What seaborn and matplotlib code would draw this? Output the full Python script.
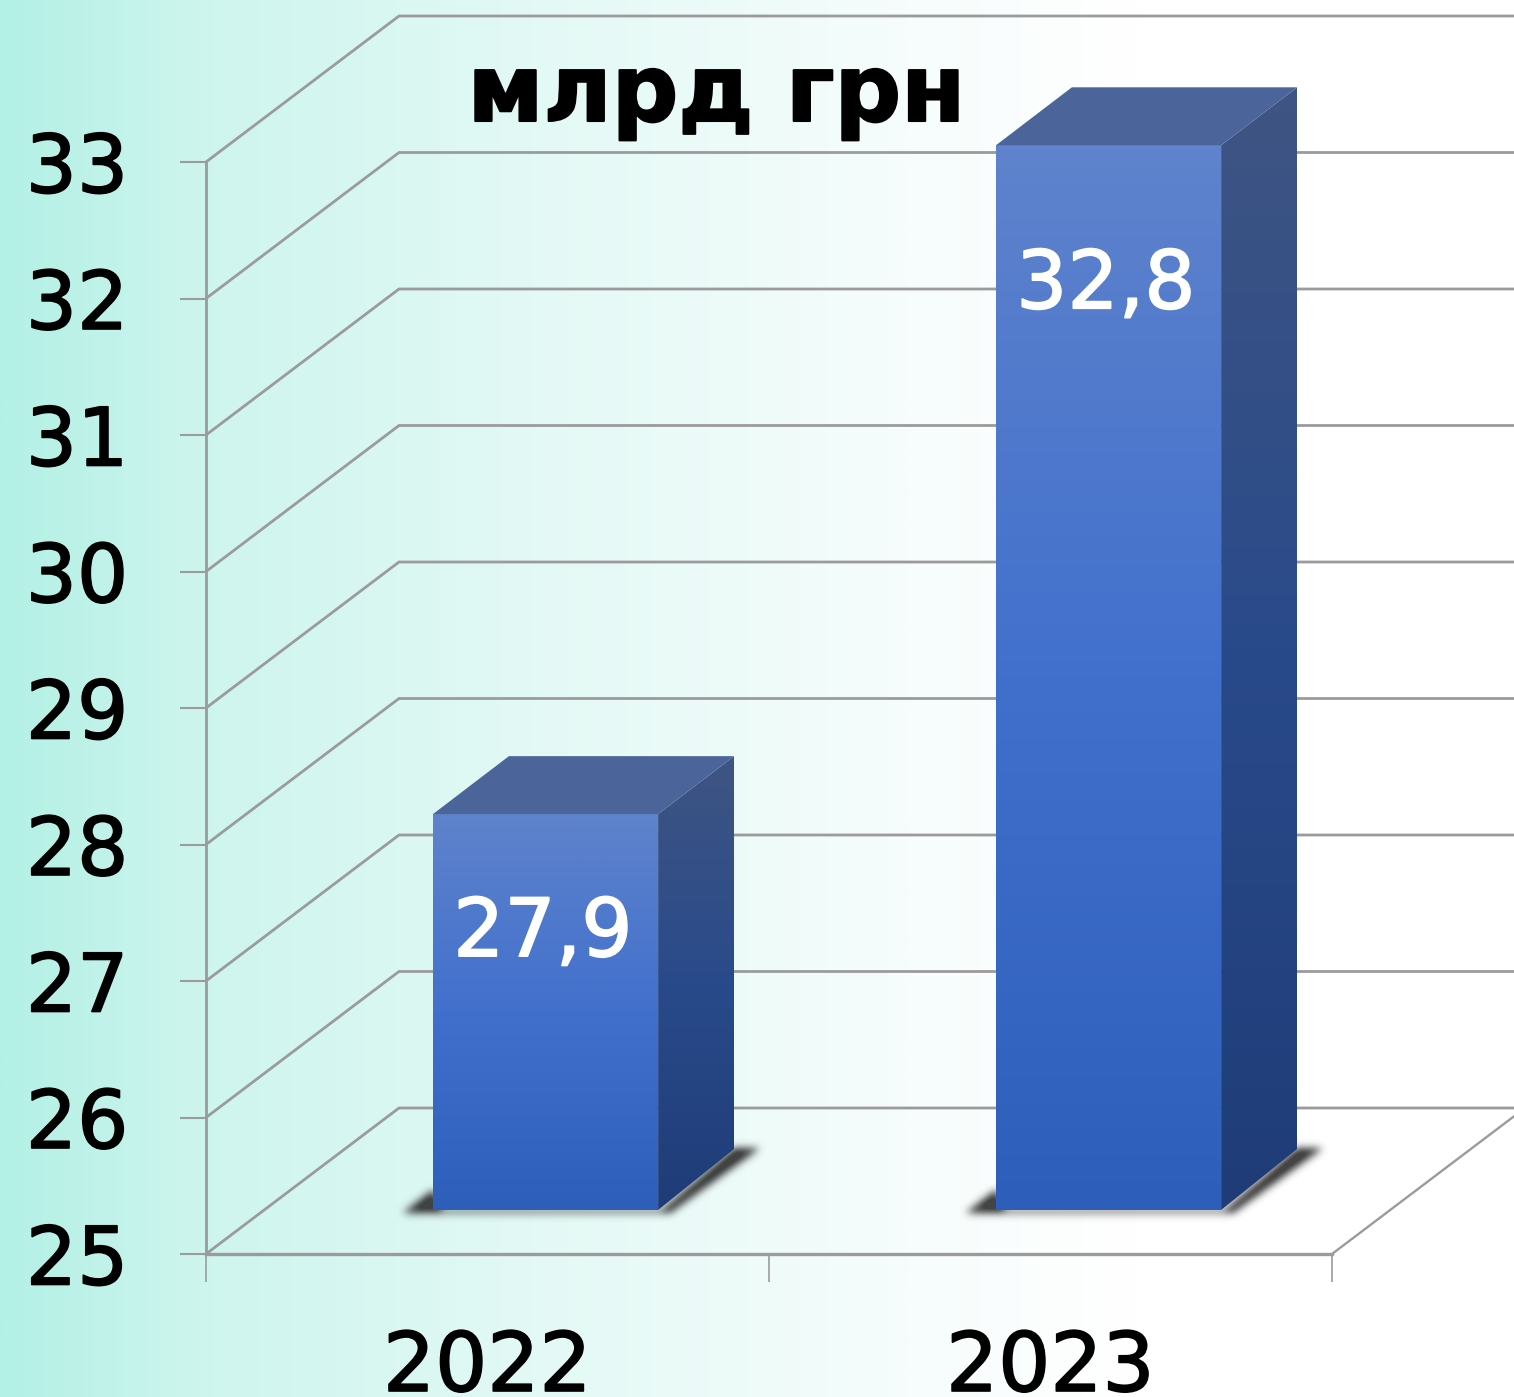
import numpy as np
import pandas as pd
import matplotlib
matplotlib.use("Agg")
import matplotlib.pyplot as plt
import matplotlib.patheffects as pe
import seaborn as sns
from matplotlib.colors import LinearSegmentedColormap
from matplotlib.patches import Polygon
from matplotlib.path import Path
from matplotlib.transforms import IdentityTransform

years = ["2022", "2023"]
values = [27.9, 32.8]
value_labels = ["27,9", "32,8"]
y_ticks = [25, 26, 27, 28, 29, 30, 31, 32, 33]
title_text = "млрд грн"

W, H = 1514, 1397
GRID = "#9b9b9b"
BAR_W = 0.4
BASE = 25                 # the value axis starts here, not at zero
DEPTH_FRAME = (193, 146)  # px, how far the back wall sits behind the front
DEPTH_BAR = (76, 58)
BAR_SHIFT = (58, 44)      # bars stand partway into the floor
LABEL_DROP = [120, 141]   # px below bar top

sns.set_theme(style="white")
plt.rcParams["font.family"] = ["DejaVu Sans"]

fig = plt.figure(figsize=(W / 100, H / 100), dpi=100)

# background
ax_bg = fig.add_axes([0, 0, 1, 1], zorder=0)
bg_cmap = LinearSegmentedColormap.from_list(
    "bg",
    [(0, "#b3f0e5"), (0.13, "#cdf5ee"), (0.35, "#e3f9f5"), (0.6, "#f6fdfc"), (0.75, "#ffffff"), (1, "#ffffff")],
)
ax_bg.imshow(np.linspace(0, 1, 512)[None, :], cmap=bg_cmap, aspect="auto", extent=(0, 1, 0, 1))
ax_bg.axis("off")

thick = [pe.withStroke(linewidth=1.2, foreground="black")]

# front frame with axes, ticks and labels
frame_pos = [206 / W, (H - 1254) / H, 1126 / W, 1092 / H]
ax = fig.add_axes(frame_pos, zorder=1)
ax.patch.set_alpha(0)
ax.set_xlim(-0.5, 1.5)
ax.set_ylim(25, 33)
sns.despine(ax=ax)
ax.spines["left"].set_color(GRID)
ax.spines["left"].set_linewidth(2)
ax.spines["bottom"].set_color(GRID)
ax.spines["bottom"].set_linewidth(2.4)
ax.set_yticks(y_ticks)
ax.set_xticks([-0.5, 0.5, 1.5])
ax.set_xticklabels([])
ax.set_xticks([0, 1], minor=True)
ax.set_xticklabels(years, minor=True)
ax.tick_params(axis="y", left=True, length=19, width=1.5, color=GRID, pad=37, labelsize=58, labelcolor="black")
ax.tick_params(axis="x", which="major", bottom=True, length=20, width=1.2, color=GRID)
ax.tick_params(axis="x", which="minor", bottom=False, length=0, pad=54, labelsize=59, labelcolor="black")
for lab in ax.get_yticklabels() + ax.get_xticklabels(minor=True):
    lab.set_path_effects(thick)

# bars go through seaborn, on an axes shifted into the floor
# one extra unit above and below so the 3d faces and shadow are not cut by the axes box
df = pd.DataFrame({"year": years, "value": values})
unit_h = frame_pos[3] / 8
ax_bar = fig.add_axes(
    [frame_pos[0] + BAR_SHIFT[0] / W, frame_pos[1] + BAR_SHIFT[1] / H - unit_h, frame_pos[2], unit_h * 10],
    zorder=2,
)
ax_bar.patch.set_alpha(0)
sns.barplot(data=df, x="year", y="value", color="#4170cc", width=BAR_W, saturation=1, ax=ax_bar)
ax_bar.set_xlim(-0.5, 1.5)
ax_bar.set_ylim(24, 34)
ax_bar.axis("off")

fig.canvas.draw()


def px(axis, x, y):
    return axis.transData.transform((x, y))


def soft_shadow(polys, box, sigma=4):
    # rasterise the polygons on a 1px grid, then blur with a gaussian
    x0, x1, y0, y1 = box
    xs, ys = np.meshgrid(np.arange(x0, x1), np.arange(y0, y1))
    pts = np.column_stack([xs.ravel(), ys.ravel()])
    mask = np.zeros(xs.shape)
    for poly in polys:
        mask = np.maximum(mask, Path(poly).contains_points(pts).reshape(xs.shape))
    kx = np.arange(-3 * sigma, 3 * sigma + 1)
    kernel = np.exp(-kx ** 2 / (2 * sigma ** 2))
    kernel /= kernel.sum()
    mask = np.apply_along_axis(lambda r: np.convolve(r, kernel, mode="same"), 0, mask)
    mask = np.apply_along_axis(lambda r: np.convolve(r, kernel, mode="same"), 1, mask)
    rgba = np.zeros(mask.shape + (4,))
    rgba[..., :3] = 0.2
    rgba[..., 3] = np.clip(mask * 1.05, 0, 0.92)
    return rgba


# walls: every gridline runs back from the spine and on along the back wall
for tick in y_ticks:
    x0, y0 = px(ax, -0.5, tick)
    ax.plot(
        [x0, x0 + DEPTH_FRAME[0], W], [y0, y0 + DEPTH_FRAME[1], y0 + DEPTH_FRAME[1]],
        color=GRID, lw=2, transform=IdentityTransform(), clip_on=False,
        scalex=False, scaley=False, solid_joinstyle="miter",
    )
x0, y0 = px(ax, 1.5, 25)
ax.plot(
    [x0, x0 + DEPTH_FRAME[0]], [y0, y0 + DEPTH_FRAME[1]],
    color=GRID, lw=1.7, transform=IdentityTransform(), clip_on=False, scalex=False, scaley=False,
)

front_cmap = LinearSegmentedColormap.from_list("front", ["#5f83cc", "#4170cc", "#2d5fba"])
side_cmap = LinearSegmentedColormap.from_list("side", ["#3f5583", "#294a8a", "#1f3c77"])
TOP_COLOR = "#4b659b"
grad = np.linspace(0, 1, 256)[:, None]

for patch, value in zip(ax_bar.patches, values):
    x_left = patch.get_x()
    x_right = x_left + patch.get_width()
    xa, yb = px(ax_bar, x_left, BASE)
    xb, yt = px(ax_bar, x_right, value)
    dx, dy = DEPTH_BAR

    # floor shadow, only its rim shows around the foot of the bar
    box = (int(xa) - 60, int(xb) + dx + 70, int(yb) - 20, int(yb) + dy + 30)
    polys = [
        [(xa - 30, yb - 3), (xa, yb + 20), (xa + 10, yb - 3)],
        [(xa, yb), (xb + 8, yb), (xb + 8, yb - 3), (xa, yb - 3)],
        [(xb, yb - 3), (xb + 12, yb - 3), (xb + dx + 26, yb + 62), (xb + dx, yb + 62)],
    ]
    ax_bar.imshow(soft_shadow(polys, box), aspect="auto", extent=(box[0], box[1], box[2], box[3]),
                  origin="lower", transform=IdentityTransform(), zorder=0.5, interpolation="bilinear")

    # front face
    im = ax_bar.imshow(grad, cmap=front_cmap, aspect="auto", extent=(xa, xb, yb, yt),
                       origin="upper", transform=IdentityTransform(), zorder=3)
    im.set_clip_path(Polygon([(xa, yb), (xb, yb), (xb, yt), (xa, yt)], closed=True, transform=IdentityTransform()))

    # side face
    side_pts = [(xb, yb), (xb + dx, yb + dy + 3), (xb + dx, yt + dy), (xb, yt)]
    im = ax_bar.imshow(grad, cmap=side_cmap, aspect="auto", extent=(xb, xb + dx, yb, yt + dy),
                       origin="upper", transform=IdentityTransform(), zorder=3)
    im.set_clip_path(Polygon(side_pts, closed=True, transform=IdentityTransform()))

    # top face
    ax_bar.add_patch(Polygon(
        [(xa, yt), (xb, yt), (xb + dx, yt + dy), (xa + dx, yt + dy)], closed=True,
        facecolor=TOP_COLOR, edgecolor="none", transform=IdentityTransform(), clip_on=False, zorder=3,
    ))

    patch.set_visible(False)

ax_bar.set_xlim(-0.5, 1.5)
ax_bar.set_ylim(24, 34)

# value labels inside the bars
for i, (value, label) in enumerate(zip(values, value_labels)):
    ax_bar.annotate(
        label, xy=(i, value), xytext=(-2, -LABEL_DROP[i] * 0.72), textcoords="offset points",
        ha="center", va="center", color="white", fontsize=58, zorder=5,
        path_effects=[pe.withStroke(linewidth=1.2, foreground="white")],
    )

fig.text(716 / W, (H - 121) / H, title_text, ha="center", va="baseline",
         fontsize=67, fontweight="bold", color="black", zorder=5,
         path_effects=[pe.withStroke(linewidth=1.5, foreground="black")])

fig.savefig("out.png", dpi=100)
